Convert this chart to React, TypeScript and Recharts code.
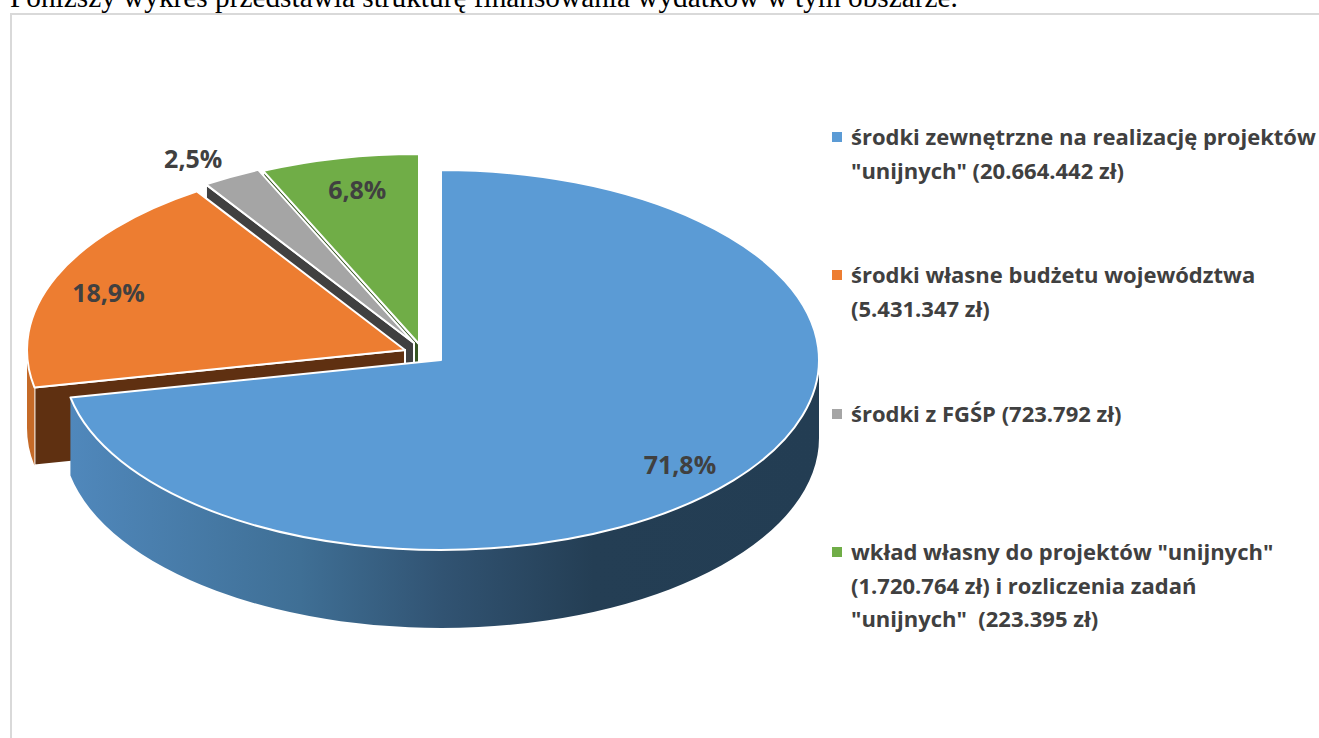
import React from 'react';
import { PieChart, Pie, Legend } from 'recharts';

const names = ['zewnetrzne', 'wlasne', 'fgsp', 'wklad'];
const values = [20664442, 5431347, 723792, 1944159];
const colors = ['#5B9BD5', '#ED7D31', '#A5A5A5', '#70AD47'];
const wallColors = ['#5B9BD5', '#5F3011', '#404040', '#375623'];
const sideColors = ['url(#blueSide)', '#C56A28', '#8A8A8A', '#5C8F3A'];
const legendLines = [
  ['środki zewnętrzne na realizację projektów', '"unijnych" (20.664.442 zł)'],
  ['środki własne budżetu województwa', '(5.431.347 zł)'],
  ['środki z FGŚP (723.792 zł)'],
  ['wkład własny do projektów "unijnych"', '(1.720.764 zł) i rozliczenia zadań', '"unijnych"  (223.395 zł)'],
];
const legendTops = [120, 258, 397, 535];

// drawing order is back to front, so the slices go counter-clockwise from the top
const total = values.reduce((a, b) => a + b, 0);
const pieData = names
  .map((name, i) => ({ name, value: values[i], idx: i }))
  .reverse();

const W = 1319;
const H = 738;
const CX = 441;
const CY = 360;
const RX = 378;
const RY = 190;
const DEPTH = 78;
const RAD = Math.PI / 180;
const TEXT = '#404040';
const FONT = '"Open Sans", sans-serif';

// how far each slice is pulled out of the pie
const explode = [
  { dx: 0, dy: 0 },
  { dx: -36, dy: -10 },
  { dx: -27, dy: -17 },
  { dx: -22, dy: -16 },
];
// label position as a share of the radius along the slice's middle angle
const labelShare = [
  { fx: 0.817, fy: 0.865 },
  { fx: 0.85, fy: 0.8 },
  { fx: 1.21, fy: 1.11 },
  { fx: 0.775, fy: 0.835 },
];

function point(cx: number, cy: number, angle: number) {
  return { x: cx + RX * Math.cos(angle * RAD), y: cy - RY * Math.sin(angle * RAD) };
}

function renderSlice(props: any) {
  const { cx, cy, startAngle, endAngle, payload } = props;
  const i = payload.idx;
  const ox = cx + explode[i].dx;
  const oy = cy + explode[i].dy;
  const a = point(ox, oy, startAngle);
  const b = point(ox, oy, endAngle);
  const large = endAngle - startAngle > 180 ? 1 : 0;
  const top = `M${ox},${oy} L${a.x},${a.y} A${RX},${RY} 0 ${large} 0 ${b.x},${b.y} Z`;

  // outer wall only shows on the front half
  const a1 = Math.max(startAngle, 180);
  const a2 = Math.min(endAngle, 360);
  let side = null;
  if (a2 > a1) {
    const p = point(ox, oy, a1);
    const q = point(ox, oy, a2);
    side = (
      <path
        d={`M${p.x},${p.y} A${RX},${RY} 0 0 0 ${q.x},${q.y} L${q.x},${q.y + DEPTH} A${RX},${RY} 0 0 1 ${p.x},${p.y + DEPTH} Z`}
        fill={sideColors[i]}
      />
    );
  }
  // cut face under the left edge of the slice
  const cut =
    i === 0 ? null : (
      <path
        d={`M${ox},${oy} L${b.x},${b.y} L${b.x},${b.y + DEPTH} L${ox},${oy + DEPTH} Z`}
        fill={wallColors[i]}
        stroke="#fff"
        strokeWidth={2}
      />
    );
  return (
    <g>
      {cut}
      {side}
      <path d={top} fill={colors[i]} stroke="#fff" strokeWidth={2} strokeLinejoin="round" />
    </g>
  );
}

function renderLabel(props: any) {
  const { cx, cy, midAngle, payload } = props;
  const i = payload.idx;
  const x = cx + explode[i].dx + RX * labelShare[i].fx * Math.cos(midAngle * RAD);
  const y = cy + explode[i].dy - RY * labelShare[i].fy * Math.sin(midAngle * RAD);
  const pct = ((values[i] / total) * 100).toFixed(1).replace('.', ',') + '%';
  return (
    <text x={x} y={y} textAnchor="middle" dominantBaseline="central" fill={TEXT} fontFamily={FONT} fontWeight={700} fontSize={25}>
      {pct}
    </text>
  );
}

function LegendBox() {
  return (
    <div style={{ position: 'relative', width: W, height: H, fontFamily: FONT, fontWeight: 700, fontSize: 22, color: TEXT }}>
      {legendLines.map((lines, i) => (
        <div key={i} style={{ position: 'absolute', left: 832, top: legendTops[i] }}>
          <div style={{ position: 'absolute', left: 0, top: 12, width: 10, height: 10, background: colors[i] }} />
          <div style={{ marginLeft: 19, lineHeight: '33.5px', whiteSpace: 'pre' }}>
            {lines.map((l) => (
              <div key={l}>{l}</div>
            ))}
          </div>
        </div>
      ))}
    </div>
  );
}

export default function App() {
  return (
    <div style={{ position: 'absolute', left: 0, top: 0, width: W, height: H, overflow: 'hidden', background: '#fff' }}>
      <div
        style={{
          position: 'absolute',
          left: 10,
          top: -20,
          fontFamily: '"Liberation Serif", serif',
          fontSize: 29.3,
          lineHeight: '34px',
          whiteSpace: 'nowrap',
          color: '#000',
        }}
      >
        Poniższy wykres przedstawia strukturę finansowania wydatków w tym obszarze.
      </div>
      <div
        style={{
          position: 'absolute',
          left: 10,
          top: 13,
          width: W,
          height: H,
          borderLeft: '2px solid #D9D9D9',
          borderTop: '2px solid #D9D9D9',
        }}
      />
      <div style={{ position: 'absolute', left: 0, top: 0 }}>
        <PieChart width={W} height={H} margin={{ top: 0, right: 0, bottom: 0, left: 0 }}>
          <defs>
            <linearGradient id="blueSide" gradientUnits="userSpaceOnUse" x1={67} y1={0} x2={819} y2={0}>
              <stop offset="0%" stopColor="#5088BC" />
              <stop offset="31%" stopColor="#3F6F95" />
              <stop offset="50%" stopColor="#315372" />
              <stop offset="70%" stopColor="#243E54" />
              <stop offset="100%" stopColor="#233D53" />
            </linearGradient>
          </defs>
          <Pie
            data={pieData}
            dataKey="value"
            nameKey="name"
            cx={CX}
            cy={CY}
            outerRadius={RX}
            startAngle={90}
            endAngle={450}
            paddingAngle={0}
            stroke="none"
            shape={renderSlice}
            label={renderLabel}
            labelLine={false}
            isAnimationActive={false}
          />
          <Legend content={<LegendBox />} wrapperStyle={{ position: 'absolute', left: 0, top: 0, width: W, height: H }} />
        </PieChart>
      </div>
    </div>
  );
}
